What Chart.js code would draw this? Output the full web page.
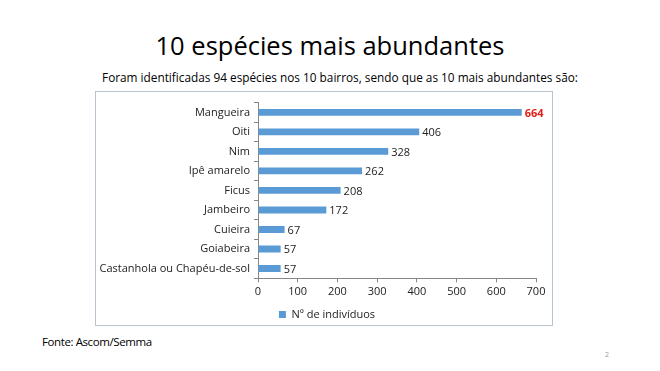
<!DOCTYPE html>
<html>
<head>
<meta charset="utf-8">
<script src="https://cdn.jsdelivr.net/npm/chart.js@4"></script>
<style>
  body { margin: 0; width: 660px; height: 371px; background: #fff; position: relative; overflow: hidden; font-family: "Open Sans", "Noto Sans", sans-serif; }
  #titulo { position: absolute; left: 0; width: 660px; top: 28px; text-align: center; font-size: 25.5px; color: #000; }
  #sub { position: absolute; left: 0; width: 680px; top: 69px; text-align: center; font-size: 11.8px; color: #000; }
  #caixa { position: absolute; left: 95px; top: 91px; width: 456px; height: 233px; border: 1px solid #b8c4d0; }
  #fonte { position: absolute; left: 42px; top: 334px; font-size: 11.5px; letter-spacing: -0.4px; color: #000; }
  #pag { position: absolute; left: 605px; top: 350px; font-size: 7px; color: #999; }
</style>
</head>
<body>
<div id="titulo">10 espécies mais abundantes</div>
<div id="sub">Foram identificadas 94 espécies nos 10 bairros, sendo que as 10 mais abundantes são:</div>
<div id="caixa"><canvas id="grafico"></canvas></div>
<div id="fonte">Fonte: Ascom/Semma</div>
<div id="pag">2</div>
<script>
// dados
const especies = ['Mangueira', 'Oiti', 'Nim', 'Ipê amarelo', 'Ficus', 'Jambeiro', 'Cuieira', 'Goiabeira', 'Castanhola ou Chapéu-de-sol']
const individuos = [664, 406, 328, 262, 208, 172, 67, 57, 57]
const serie = 'Nº de indivíduos'

// plugin simples pra escrever o valor no fim de cada barra
const rotulos = {
  id: 'rotulos',
  afterLayout(chart) {
    // legenda um pouco mais pra direita, como no original
    chart.legend.left += 11
    chart.legend.right += 11
  },
  afterDatasetsDraw(chart) {
    const ctx = chart.ctx
    const meta = chart.getDatasetMeta(0)
    ctx.save()
    ctx.textBaseline = 'middle'
    meta.data.forEach(function(barra, i) {
      if (i == 0) {
        ctx.fillStyle = '#e0201b'
        ctx.font = 'bold 11px "Open Sans"'
      } else {
        ctx.fillStyle = '#222'
        ctx.font = '11px "Open Sans"'
      }
      ctx.fillText(String(individuos[i]), barra.x + 3, barra.y + 1)
    })
    ctx.restore()
  }
}

let myChart = new Chart(document.getElementById('grafico'), {
  type: 'bar',
  data: {
    labels: especies,
    datasets: [{
      label: serie,
      data: individuos,
      backgroundColor: '#5b9bd5',
      barPercentage: 0.7,
      categoryPercentage: 0.5
    }]
  },
  options: {
    indexAxis: 'y',
    responsive: true,
    maintainAspectRatio: false,
    animation: false,
    // bottom negativo pra descer a legenda até onde ela fica no original
    layout: { padding: { top: 6, right: 16, bottom: -5, left: 0 } },
    scales: {
      x: {
        min: 0,
        max: 700,
        afterFit: function(s) { s.height += 6.5 },
        ticks: { stepSize: 100, color: '#222', font: { family: 'Open Sans', size: 11 }, padding: 3 },
        grid: { drawOnChartArea: false, drawTicks: true, tickLength: 4, color: '#868686' },
        border: { color: '#868686' }
      },
      y: {
        afterFit: function(s) { s.width = 162 },
        ticks: { color: '#222', font: { family: 'Open Sans', size: 11 }, padding: 4, autoSkip: false },
        grid: { drawOnChartArea: false, drawTicks: true, tickLength: 4, color: '#868686' },
        border: { color: '#868686' }
      }
    },
    plugins: {
      legend: {
        position: 'bottom',
        labels: { boxWidth: 7, boxHeight: 7, color: '#222', font: { family: 'Open Sans', size: 11 }, padding: 1 }
      },
      tooltip: { enabled: false }
    }
  },
  plugins: [rotulos]
})
</script>
</body>
</html>
